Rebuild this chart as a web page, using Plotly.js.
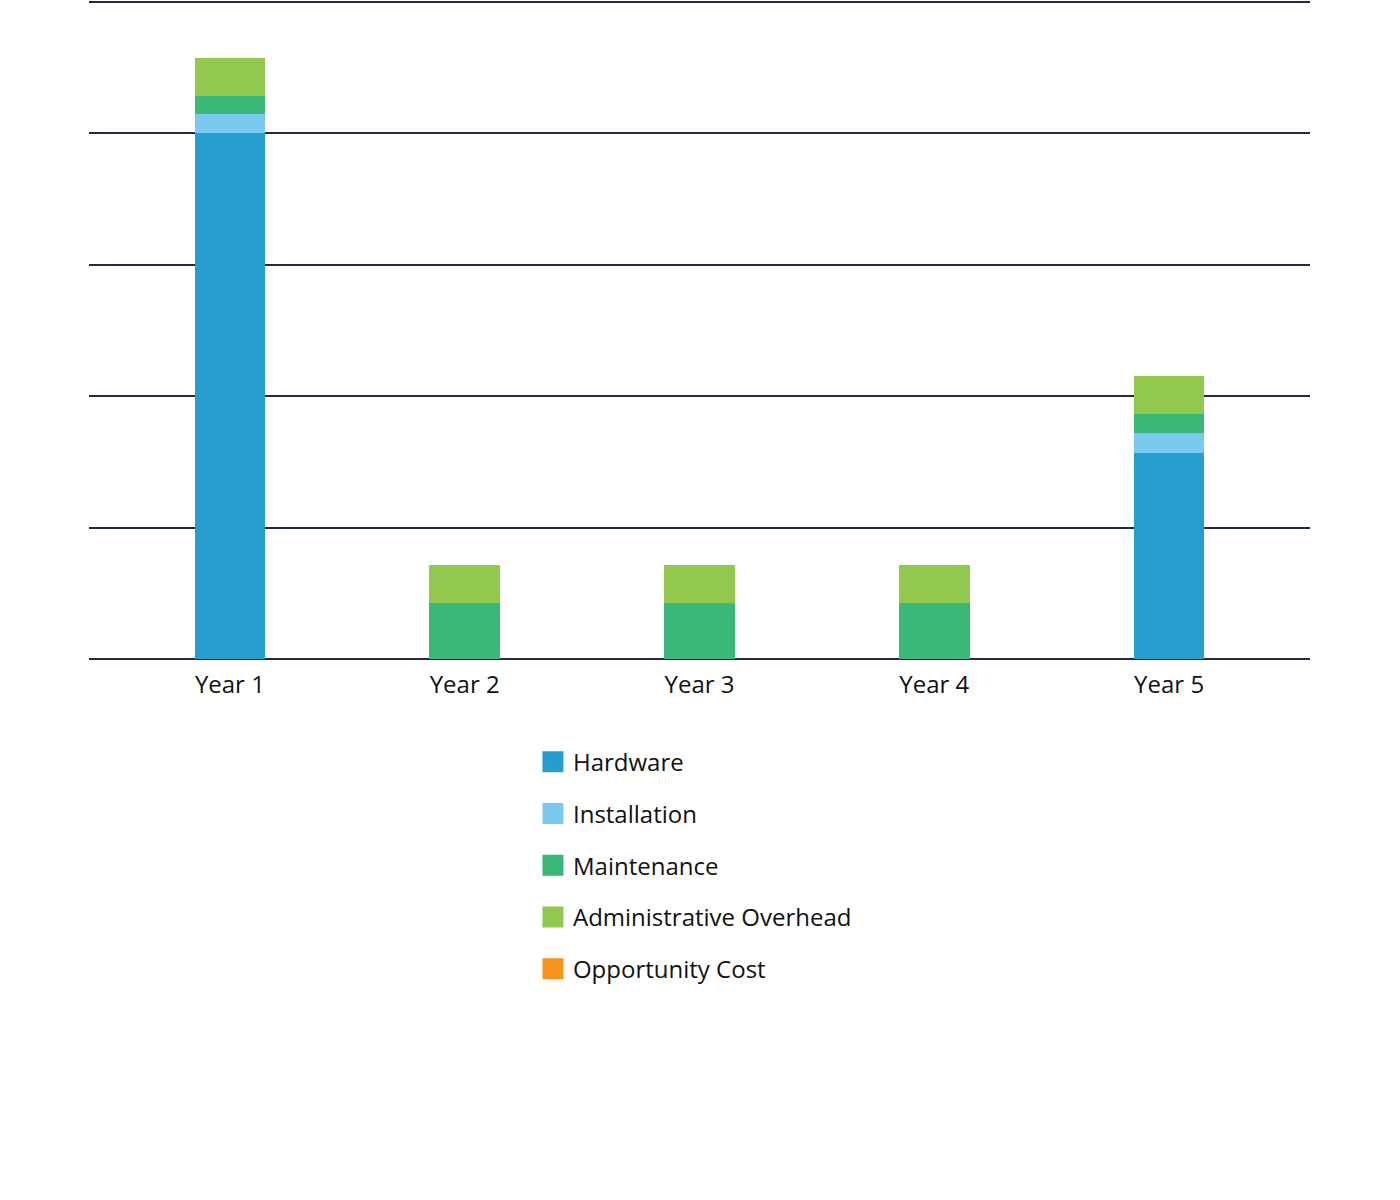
<!DOCTYPE html>
<html>
<head>
<meta charset="utf-8">
<script src="https://cdn.plot.ly/plotly-3.0.1.min.js"></script>
<style>html,body{margin:0;padding:0;background:#fff;}#chart{width:1400px;height:1200px;}</style>
</head>
<body>
<div id="chart"></div>
<script>
const years = ["Year 1", "Year 2", "Year 3", "Year 4", "Year 5"];
const hardware = [80, 0, 0, 0, 31.4];
const installation = [2.85, 0, 0, 0, 2.9];
const maintenance = [2.8, 8.5, 8.5, 8.5, 2.9];
const adminOverhead = [5.8, 5.8, 5.8, 5.8, 5.8];
const opportunityCost = [0, 0, 0, 0, 0];

const seriesNames = ["Hardware", "Installation", "Maintenance", "Administrative Overhead", "Opportunity Cost"];
const seriesValues = [hardware, installation, maintenance, adminOverhead, opportunityCost];
const seriesColors = ["#279dcd", "#79c9f1", "#3ab878", "#91c84d", "#f7941e"];

const FONT = "'Open Sans', Lato, sans-serif";
const traces = [];
seriesNames.forEach((name, i) => {
  traces.push({
    type: "bar", name: name, x: years, y: seriesValues[i],
    marker: {color: seriesColors[i], line: {width: 0}},
    legendgroup: name, showlegend: false, hoverinfo: "x+y+name"
  });
});
seriesNames.forEach((name, i) => {
  traces.push({
    type: "scatter", mode: "markers", name: name, x: [years[0]], y: [null],
    marker: {symbol: "square", size: 17, color: seriesColors[i], line: {color: seriesColors[i], width: 5}},
    legendgroup: name, showlegend: true, hoverinfo: "skip"
  });
});

const layout = {
  width: 1400, height: 1200,
  margin: {l: 89, r: 90, t: 0, b: 541},
  paper_bgcolor: "#ffffff", plot_bgcolor: "#ffffff",
  barmode: "stack", bargap: 0.7,
  font: {family: FONT, size: 24, color: "#111111"},
  xaxis: {
    type: "category", range: [-0.6, 4.6], showgrid: false, showline: false,
    ticks: "", ticklabelstandoff: 9, tickfont: {family: FONT, size: 24, color: "#111111"}, fixedrange: true
  },
  yaxis: {
    range: [0, 100.228], dtick: 20, tick0: 0, showticklabels: false, ticks: "",
    showgrid: true, gridcolor: "#1f2a44", gridwidth: 2,
    zeroline: true, zerolinecolor: "#1f2a44", zerolinewidth: 2, showline: false, fixedrange: true
  },
  showlegend: true,
  legend: {
    orientation: "v", traceorder: "grouped", x: 0.3636, xanchor: "left", y: -0.1225, yanchor: "top",
    font: {family: FONT, size: 24, color: "#111111"}, tracegroupgap: 17.5, itemsizing: "trace",
    bgcolor: "rgba(0,0,0,0)"
  }
};

Plotly.newPlot("chart", traces, layout, {displayModeBar: false, staticPlot: true});
</script>
</body>
</html>
